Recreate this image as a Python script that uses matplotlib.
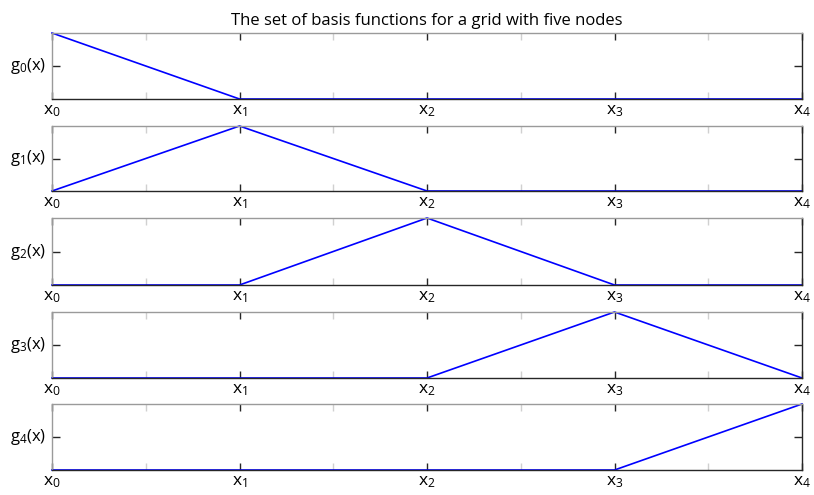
import matplotlib
matplotlib.use("Agg")
import matplotlib.pyplot as plt

plt.rcParams['font.family'] = ['Open Sans', 'DejaVu Sans']
plt.rcParams['mathtext.fontset'] = 'custom'
plt.rcParams['mathtext.rm'] = 'Open Sans'

nodes = [0, 1, 2, 3, 4]
node_labels = [r"$\mathregular{x_%d}$" % i for i in nodes]
# hat function values at each node, one row per basis function
basis_values = [
    [1, 0, 0, 0, 0],
    [0, 1, 0, 0, 0],
    [0, 0, 1, 0, 0],
    [0, 0, 0, 1, 0],
    [0, 0, 0, 0, 1],
]
ylabels = [r"$\mathregular{g_%d(x)}$" % i for i in nodes]

W, H = 814, 495
fig = plt.figure(figsize=(W / 100, H / 100), dpi=100)

panel_px = [(33, 99), (126, 191), (218, 285), (312, 378), (404, 470)]
left_px, right_px = 52, 802

for k, (top, bot) in enumerate(panel_px):
    ax = fig.add_axes([left_px / W, 1 - bot / H, (right_px - left_px) / W, (bot - top) / H])
    ax.plot(nodes, basis_values[k], color='#0000ff', lw=1.2, clip_on=False)
    ax.set_xlim(0, 4)
    ax.set_ylim(0, 1)
    ax.set_xticks(nodes)
    ax.set_xticklabels(node_labels, fontsize=12.5)
    ax.set_xticks([0.5, 1.5, 2.5, 3.5], minor=True)
    ax.set_yticks([0.5])
    ax.set_yticklabels([])
    ax.tick_params(axis='x', which='major', direction='in', top=True, length=5,
                   width=1, color='#262626', pad=3)
    ax.tick_params(axis='x', which='minor', direction='in', top=True, length=5,
                   width=1, color='#d0d0d0')
    ax.tick_params(axis='y', direction='in', right=True, length=6, width=1,
                   color='#262626')
    for s in ['top', 'left']:
        ax.spines[s].set_color('#9a9a9a')
    for s in ['bottom', 'right']:
        ax.spines[s].set_color('#262626')
    for s in ax.spines.values():
        s.set_linewidth(1)
    ax.set_ylabel(ylabels[k], rotation=0, fontsize=12, ha='right', va='center')
    ax.yaxis.set_label_coords(-0.008, 0.5)
    if k == 0:
        ax.set_title("The set of basis functions for a grid with five nodes",
                     fontsize=12, pad=6)

fig.savefig("out.png", dpi=100)
